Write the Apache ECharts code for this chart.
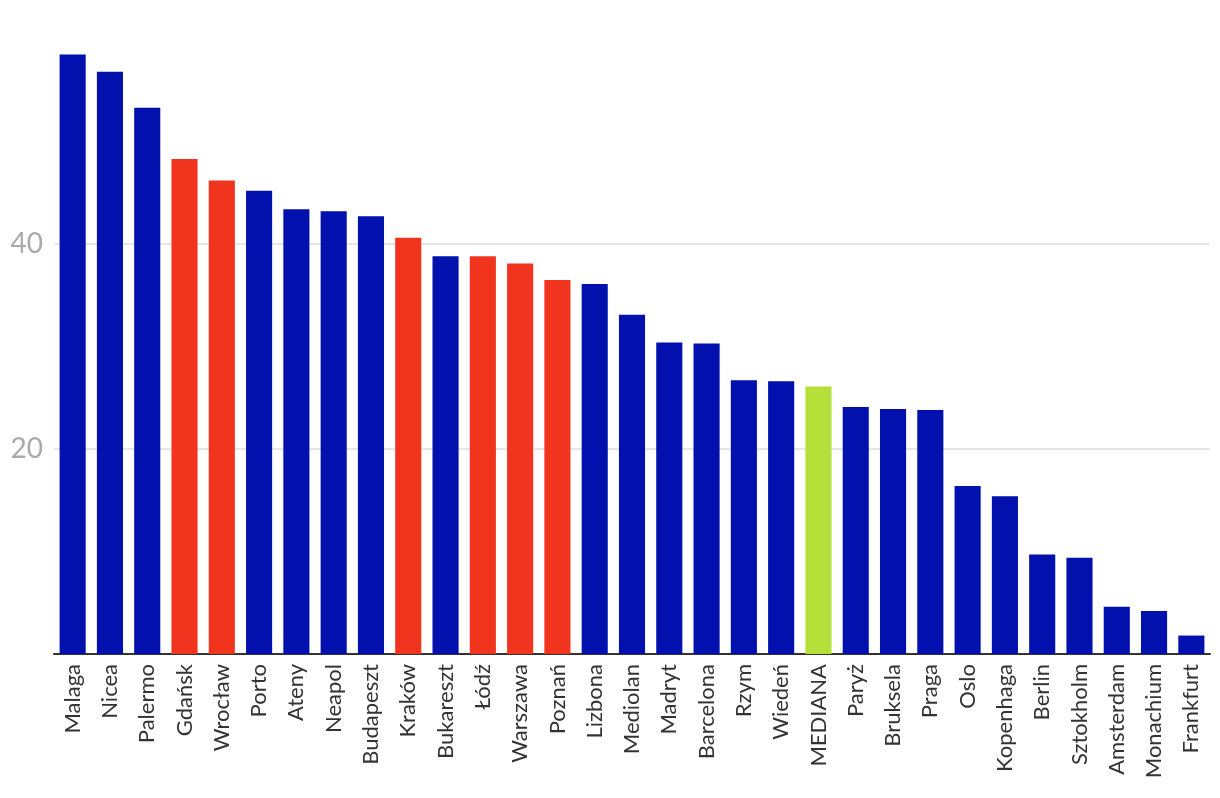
<!DOCTYPE html>
<html>
<head>
<meta charset="utf-8">
<script src="https://cdn.jsdelivr.net/npm/echarts@6/dist/echarts.min.js"></script>
<style>html,body{margin:0;padding:0;background:#fff}#c{width:1220px;height:798px}</style>
</head>
<body>
<div id="c"></div>
<script>
const cities = ["Malaga","Nicea","Palermo","Gdańsk","Wrocław","Porto","Ateny","Neapol","Budapeszt","Kraków","Bukareszt","Łódź","Warszawa","Poznań","Lizbona","Mediolan","Madryt","Barcelona","Rzym","Wiedeń","MEDIANA","Paryż","Bruksela","Praga","Oslo","Kopenhaga","Berlin","Sztokholm","Amsterdam","Monachium","Frankfurt"];
const values = [58.5,56.8,53.3,48.3,46.2,45.2,43.4,43.2,42.7,40.6,38.8,38.8,38.1,36.5,36.1,33.1,30.4,30.3,26.7,26.6,26.1,24.1,23.9,23.8,16.4,15.4,9.7,9.4,4.6,4.2,1.8];
const groups = ["o","o","o","pl","pl","o","o","o","o","pl","o","pl","pl","pl","o","o","o","o","o","o","med","o","o","o","o","o","o","o","o","o","o"];
const groupColors = {o: "#0210AD", pl: "#F0341E", med: "#B5E03A"};

const chart = echarts.init(document.getElementById('c'));
chart.setOption({
  animation: false,
  grid: {left: 54, right: 10, top: 39, bottom: 144, containLabel: false},
  xAxis: {
    type: 'category',
    data: cities,
    axisLine: {lineStyle: {color: '#333333', width: 2}},
    axisTick: {show: false},
    axisLabel: {rotate: 90, interval: 0, color: '#333333', fontFamily: 'Lato', fontSize: 22, margin: 10}
  },
  yAxis: {
    type: 'value',
    min: 0, max: 60, interval: 20,
    axisLine: {show: false},
    axisTick: {show: false},
    axisLabel: {color: '#AAAAAA', fontFamily: 'Lato', fontSize: 28, margin: 11, showMinLabel: false, showMaxLabel: false},
    splitLine: {show: true, showMinLine: false, showMaxLine: false, lineStyle: {color: '#E6E6E6', width: 2}}
  },
  series: [{
    type: 'bar',
    barCategoryGap: '30%',
    data: values.map((v, i) => ({value: v, itemStyle: {color: groupColors[groups[i]]}}))
  }]
});
</script>
</body>
</html>
